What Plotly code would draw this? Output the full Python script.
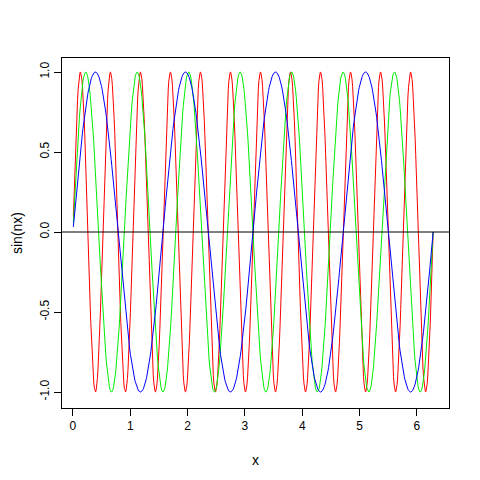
import numpy as np
import plotly.graph_objects as go

# sin(n x) curves, one per frequency
freqs = [12, 7, 4]
colors = ["red", "#00ee00", "blue"]
x = np.linspace(0.008, 2 * np.pi, 600)

fig = go.Figure()
for n, c in zip(freqs, colors):
    fig.add_trace(go.Scatter(x=x, y=np.sin(n * x), mode="lines",
                             line=dict(color=c, width=1), showlegend=False))

fig.add_hline(y=0, line=dict(color="black", width=1))

axis_common = dict(showgrid=False, zeroline=False, showline=True, linecolor="black",
                   linewidth=1, mirror=True, ticks="outside", ticklen=7,
                   tickcolor="black", tickfont=dict(size=12, color="black"),
                   automargin=False)
fig.update_xaxes(range=[-0.19, 6.56], tickvals=[0, 1, 2, 3, 4, 5, 6],
                 title=dict(text="x", standoff=22), **axis_common)
fig.update_yaxes(range=[-1.1, 1.0875], tickvals=[-1, -0.5, 0, 0.5, 1],
                 ticktext=["-1.0", "-0.5", "0.0", "0.5", "1.0"], tickangle=-90,
                 title=dict(text="sin(nx)", standoff=12), **axis_common)

# page body adds ~8px offset, so margins are shifted to compensate
fig.update_layout(width=480, height=480, plot_bgcolor="white", paper_bgcolor="white",
                  margin=dict(l=54, r=39, t=50, b=80),
                  font=dict(family="Liberation Sans, Arial", size=12, color="black"))

fig.write_html("out.html")
